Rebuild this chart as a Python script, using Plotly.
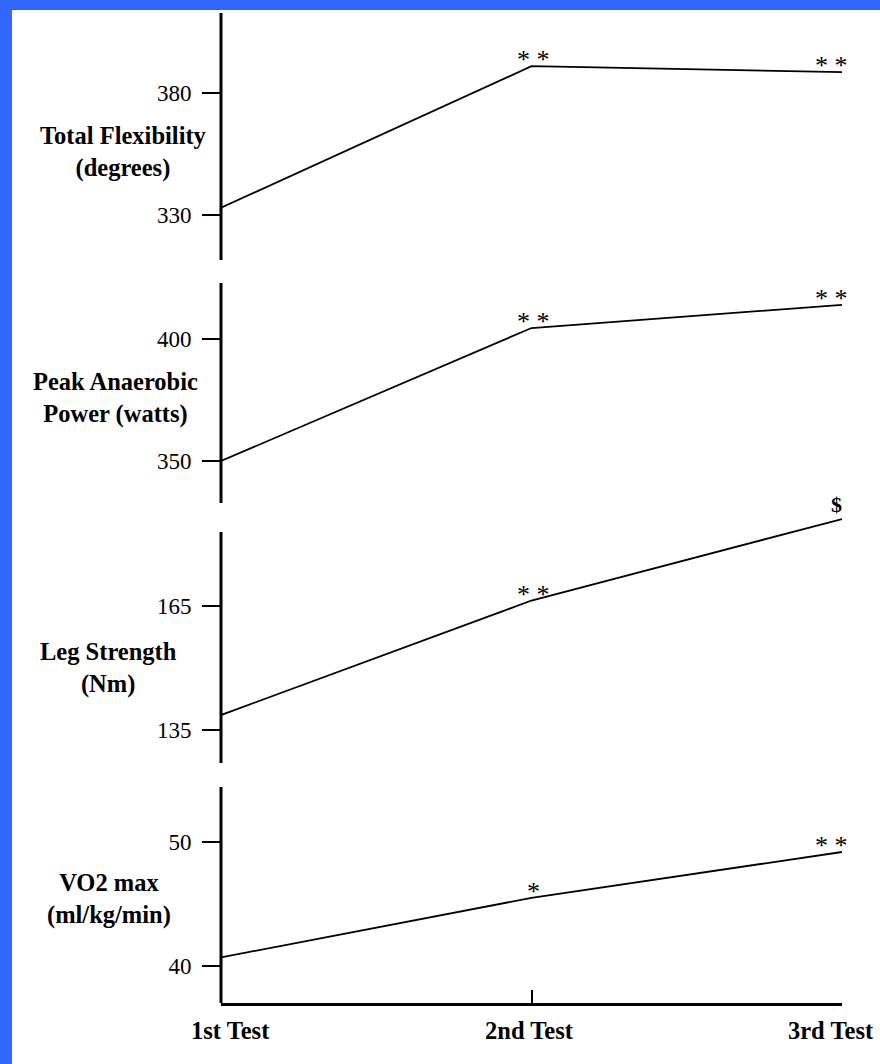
import plotly.graph_objects as go

# ---------------- data ----------------
tests = ["1st Test", "2nd Test", "3rd Test"]
x_pos = [1, 2, 3]

flexibility = [333, 391, 388.6]
anaerobic_power = [350, 404.5, 414]
leg_strength = [138.6, 166.3, 186]
vo2_max = [40.7, 45.5, 49.2]

flex_marks = ["", "* *", "* *"]
power_marks = ["", "* *", "* *"]
leg_marks = ["", "* *", "$"]
vo2_marks = ["", "*", "* *"]

titles = [
    "Total Flexibility<br>(degrees)",
    "Peak Anaerobic<br>Power (watts)",
    "Leg Strength<br>(Nm)",
    "VO2 max<br>(ml/kg/min)",
]
y_ticks = [[330, 380], [350, 400], [135, 165], [40, 50]]

# ---------------- layout helpers ----------------
W, H = 880, 1064
BLUE = "#3366FF"
FONT = "Liberation Serif, Times New Roman, serif"


def fx(p):
    return p / W


def fy(p):
    return 1 - p / H


X_LEFT, X_RIGHT = 221, 842

panels = [
    dict(y=flexibility, marks=flex_marks, dom=(13, 260), spine=(13, 260), rng=[311.56, 412.8], title_xy=(124, 152)),
    dict(y=anaerobic_power, marks=power_marks, dom=(283, 503), spine=(283, 503), rng=[332.8, 422.95], title_xy=(116, 398)),
    dict(y=leg_strength, marks=leg_marks, dom=(505, 763), spine=(532, 763), rng=[127.0, 189.4], title_xy=(108, 668)),
    dict(y=vo2_max, marks=vo2_marks, dom=(787, 1003), spine=(787, 1003), rng=[37.02, 54.44], title_xy=(109, 899)),
]
mark_xshift = [0, 2, -11]

fig = go.Figure()
layout = dict(
    template="none",
    width=W,
    height=H,
    autosize=False,
    margin=dict(l=0, r=0, t=0, b=0, pad=0),
    paper_bgcolor=BLUE,
    plot_bgcolor="white",
    showlegend=False,
    font=dict(family=FONT, color="black"),
)
shapes = [
    dict(type="rect", xref="paper", yref="paper", x0=fx(12), x1=1.0, y0=0, y1=fy(10),
         fillcolor="white", line=dict(width=0), layer="below"),
]
annotations = []

for i, p in enumerate(panels):
    n = i + 1
    xa = "x" if n == 1 else f"x{n}"
    ya = "y" if n == 1 else f"y{n}"
    xkey = "xaxis" if n == 1 else f"xaxis{n}"
    ykey = "yaxis" if n == 1 else f"yaxis{n}"

    fig.add_trace(go.Scatter(
        x=x_pos, y=p["y"], mode="lines",
        line=dict(color="black", width=1.8),
        xaxis=xa, yaxis=ya, hoverinfo="skip",
    ))

    is_bottom = (n == 4)
    layout[xkey] = dict(
        domain=[fx(X_LEFT), fx(X_RIGHT)],
        range=[1, 3],
        anchor=ya,
        visible=is_bottom,
        automargin=False,
        showgrid=False, zeroline=False,
        showline=is_bottom, linecolor="black", linewidth=3,
        ticks="inside" if is_bottom else "", ticklen=13, tickwidth=2, tickcolor="black",
        tickvals=x_pos, showticklabels=False,
    )
    layout[ykey] = dict(
        domain=[fy(p["dom"][1]), fy(p["dom"][0])],
        range=p["rng"],
        anchor=xa,
        automargin=False,
        showgrid=False, zeroline=False, showline=False,
        ticks="outside", ticklen=18, tickwidth=1.5, tickcolor="black",
        tickvals=y_ticks[i],
        tickfont=dict(family=FONT, size=23, color="black"),
        ticklabelstandoff=6,
    )

    # vertical spine
    shapes.append(dict(
        type="line", xref="paper", yref="paper",
        x0=fx(X_LEFT), x1=fx(X_LEFT), y0=fy(p["spine"][1]), y1=fy(p["spine"][0]),
        line=dict(color="black", width=3),
    ))

    # panel title
    tx, ty = p["title_xy"]
    annotations.append(dict(
        xref="paper", yref="paper", x=fx(tx), y=fy(ty),
        text=titles[i], showarrow=False, align="center",
        xanchor="center", yanchor="middle",
        font=dict(family=FONT, size=24.5, color="black", weight="bold"),
    ))

    # significance marks
    for j, m in enumerate(p["marks"]):
        if not m:
            continue
        is_dollar = (m == "$")
        annotations.append(dict(
            xref=xa, yref=ya, x=x_pos[j], y=p["y"][j],
            text=m, showarrow=False,
            xanchor="center",
            xshift=-6 if is_dollar else mark_xshift[j],
            yanchor="bottom",
            yshift=0 if is_dollar else -10,
            font=dict(family=FONT, size=22 if is_dollar else 26, color="black",
                      weight="bold" if is_dollar else "normal"),
        ))

# x category labels under the bottom axis
label_xshift = [9, -2, -11]
for j, t in enumerate(tests):
    annotations.append(dict(
        xref="x4", yref="y4 domain", x=x_pos[j], y=0,
        text=t, showarrow=False,
        xanchor="center", yanchor="top",
        xshift=label_xshift[j], yshift=-12,
        font=dict(family=FONT, size=24.5, color="black", weight="bold"),
    ))

layout["shapes"] = shapes
layout["annotations"] = annotations
fig.update_layout(**layout)

fig.write_html(
    "out.html",
    config={"displayModeBar": False},
    post_script="document.body.style.margin='0';document.body.style.overflow='hidden';",
)
